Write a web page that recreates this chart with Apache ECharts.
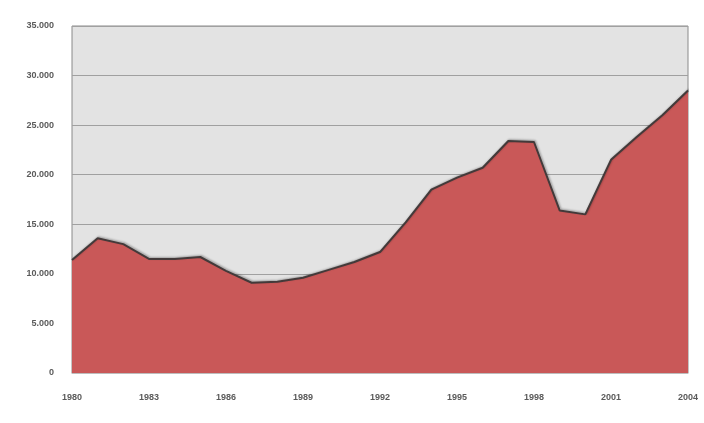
<!DOCTYPE html>
<html>
<head>
<meta charset="utf-8">
<script src="https://cdn.jsdelivr.net/npm/echarts@6/dist/echarts.min.js"></script>
<style>
  html, body { margin: 0; padding: 0; background: #fff; }
  #main { width: 704px; height: 423px; }
</style>
</head>
<body>
<div id="main"></div>
<script>
// años y valores
let years = ['1980','1981','1982','1983','1984','1985','1986','1987','1988','1989','1990','1991','1992',
             '1993','1994','1995','1996','1997','1998','1999','2000','2001','2002','2003','2004'];
let values = [11400, 13600, 13000, 11500, 11500, 11700, 10300, 9100, 9200, 9600, 10400, 11200, 12200,
              15200, 18500, 19700, 20700, 23400, 23300, 16400, 16000, 21500, 23800, 26000, 28500];
let yTicks = [0, 5000, 10000, 15000, 20000, 25000, 30000, 35000];

let myChart
function draw(){
    let option = {
        animation: false,
        grid: {
            left: 72,
            right: 16,
            top: 26,
            bottom: 50,
            show: true,
            backgroundColor: '#e3e3e3',
            borderColor: '#8a8a8a',
            borderWidth: 1
        },
        xAxis: {
            type: 'category',
            data: years,
            boundaryGap: false,
            axisLine: { show: true, lineStyle: { color: '#bdbdbd', width: 1 } },
            axisTick: { show: false },
            axisLabel: {
                interval: 2,
                color: '#5a5a5a',
                fontSize: 9,
                fontWeight: 'bold',
                fontFamily: 'Liberation Sans',
                margin: 20
            },
            splitLine: { show: false }
        },
        yAxis: {
            type: 'value',
            min: 0,
            max: 35000,
            interval: 5000,
            axisLine: { show: false },
            axisTick: { show: false },
            axisLabel: {
                color: '#5a5a5a',
                fontSize: 9,
                fontWeight: 'bold',
                fontFamily: 'Liberation Sans',
                margin: 18,
                formatter: function (v) {
                    if (yTicks.indexOf(v) < 0) return '';
                    return v === 0 ? '0' : (v / 1000) + '.000';
                }
            },
            splitLine: { show: true, lineStyle: { color: '#a0a0a0', width: 1 } }
        },
        series: [
            {
                type: 'line',
                data: values,
                symbol: 'none',
                smooth: false,
                lineStyle: {
                    color: '#433a3a',
                    width: 2,
                    shadowColor: 'rgba(0,0,0,0.3)',
                    shadowOffsetX: 1,
                    shadowOffsetY: -1,
                    shadowBlur: 2
                },
                areaStyle: { color: '#c95858', opacity: 1 },
                z: 3
            }
        ]
    };

    myChart = echarts.init(document.getElementById("main"));
    myChart.setOption(option);

    window.addEventListener('resize', function(){
        myChart.resize();
    }, false)
}

draw()
</script>
</body>
</html>
